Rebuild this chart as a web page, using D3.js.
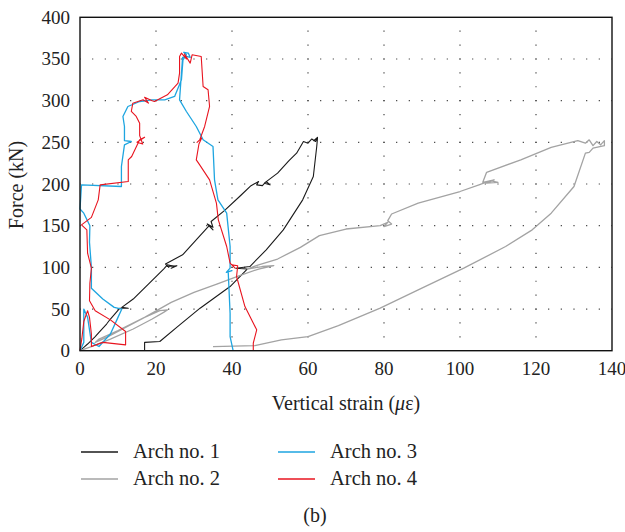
<!DOCTYPE html>
<meta charset="utf-8">
<style>
body { margin: 0; background: #fff; }
.grid line { stroke: #444; stroke-width: 1.2px; }
.curve { fill: none; stroke-linejoin: round; }
</style>
<body>
<script src="https://d3js.org/d3.v7.min.js"></script>
<script>
var width = 625,
    height = 532;

var xTicks = [0, 20, 40, 60, 80, 100, 120, 140],
    yTicks = [0, 50, 100, 150, 200, 250, 300, 350, 400];

var seriesNames = ["Arch no. 1", "Arch no. 2", "Arch no. 3", "Arch no. 4"];

// [vertical strain, force]
var arch1 = [[0,0],[1,4],[2,8],[4,17],[5,22],[7,32],[8,38],[10.5,51],[12.7,51],[11,52],[14,62],[18,80],
  [22,98],[23,103],[25,101],[24,99],[25.5,102],[23,101],[22.5,104],[27,115],[31,135],[34,150],[35,145],
  [33.5,152],[35,148],[34.5,155],[38,168],[42,185],[45,198],[47,203],[46.5,199],[48,198],[49,203],
  [50,199],[48.5,201],[52,213],[55,228],[57,237],[58.8,251],[60,249],[61,254],[62,251],[62.5,256],
  [61.5,252],[62.5,255],[62.3,245],[61.4,209],[58.6,181],[53.5,145],[49,121],[44.7,101],[41,99],
  [44,98],[39.5,77],[31.6,51],[26,30],[21,11],[17,10],[17,0]];

var arch2 = [[0,0],[3,5],[8,14],[14,26],[19,38],[22,46],[23,49],[21,48],[17,40],[12,28],[7,16],[4,10],
  [5,14],[10,24],[17,40],[24,58],[30,70],[36,80],[42,90],[47,98],[51,102],[48,101],[44,98],[47,103],
  [52,110],[58,124],[63,138],[70,146],[79,150],[81,154],[80,149],[82,152],[81,156],[82,164],[89,177],
  [100,191],[105,199],[108,204],[110,202],[107,201],[109,205],[106,202],[107,214],[116,229],[124,244],
  [131,252],[133,249],[134,253],[135,246],[136,251],[137,247],[138,252],[138,246],[135,243],[134,238],
  [133,237],[130,197],[124,165],[119,145],[112,125],[101,99],[89,73],[79,51],[68,30],[60,17],[53,13],
  [46,6],[35,5]];

var arch3 = [[0,0],[1,10],[1,30],[1,50],[2,40],[3,10],[5,5],[8,20],[10,40],[11,50],[9,52],[6,62],[3,75],
  [3,100],[2.5,130],[2.6,150],[1,165],[0,170],[0.4,199],[10.9,197],[10.9,221],[11.7,247],[13.5,251],
  [11.7,252],[11.7,269],[11.3,281],[12.6,293],[15.7,299],[19,301],[22.3,301],[24.9,305],[26.7,325],
  [27.1,349],[28,355],[27.3,358],[28.5,357],[29,352],[28,353],[27,352],[26.2,301],[28,287],[30.6,269],
  [32.4,253],[35,245],[35.4,205],[36.3,181],[38.6,165],[39.5,125],[39.5,99],[38.5,94],[40,96],[39,95],
  [39.5,45],[39.5,17],[40.3,0]];

var arch4 = [[0,0],[0.5,15],[1,35],[2,48],[2.5,40],[3,20],[3,5],[6,10],[12,7],[12,23],[8,37],[4,48],
  [2.5,60],[2.6,81],[3,99],[2,117],[1.8,145],[0.4,151],[3,160],[4.8,181],[5.3,199],[12.7,203],
  [12.7,229],[13.6,233],[15.7,253],[17,256],[15,250],[16.5,248],[15.7,258],[15.7,273],[14.8,281],
  [13.5,287],[13.9,297],[16.6,301],[18,297],[17,304],[19,300],[19.6,299],[23,307],[25.8,321],[26.2,333],
  [26.2,353],[26.7,357],[28,350],[27.5,356],[29,345],[29.5,355],[31.9,353],[32.4,317],[33.7,313],
  [34.1,293],[32.8,269],[31.5,253],[30.8,250],[32,255],[31.3,248],[30.6,229],[31.5,223],[34.1,205],
  [35.9,177],[36.4,157],[38.6,125],[39.5,105],[40.8,99],[40,103],[41.5,102],[41.2,89],[43.4,53],
  [46.5,25],[45.6,9],[45.6,0]];

var series = [arch1, arch2, arch3, arch4],
    colors = ["#1a1a1a", "#a3a3a3", "#1ea5e0", "#e8141f"],
    widths = [1.1, 1.3, 1.3, 1.1];

var FONT = "Liberation Serif";

var margin = {left: 80, top: 17.3, right: 13, bottom: 181.3};

var x = d3.scaleLinear().domain([0, 140]).range([margin.left, width - margin.right]),
    y = d3.scaleLinear().domain([0, 400]).range([height - margin.bottom, margin.top]);

var svg = d3.select("body").append("svg")
    .attr("width", width)
    .attr("height", height);

// dotted grid
var grid = svg.append("g").attr("class", "grid");
var hStep = (x(20) - x(0)) / 6,
    vStep = (y(0) - y(50)) / 3;

grid.selectAll(".h")
    .data(yTicks.slice(1, -1))
  .enter().append("line")
    .attr("x1", x(0)).attr("x2", x(140))
    .attr("y1", function(d) { return y(d); })
    .attr("y2", function(d) { return y(d); })
    .style("stroke-dasharray", "1.2," + (hStep - 1.2))
    .style("stroke-dashoffset", -hStep + 0.6);

grid.selectAll(".v")
    .data(xTicks.slice(1, -1))
  .enter().append("line")
    .attr("y1", y(0)).attr("y2", y(400))
    .attr("x1", function(d) { return x(d); })
    .attr("x2", function(d) { return x(d); })
    .style("stroke-dasharray", "1.2," + (vStep - 1.2))
    .style("stroke-dashoffset", -vStep + 0.6);

// curves
var line = d3.line()
    .x(function(d) { return x(d[0]); })
    .y(function(d) { return y(d[1]); });

svg.selectAll(".curve")
    .data(series)
  .enter().append("path")
    .attr("class", "curve")
    .attr("d", line)
    .style("stroke", function(d, i) { return colors[i]; })
    .style("stroke-width", function(d, i) { return widths[i]; });

// frame
svg.append("rect")
    .attr("x", x(0)).attr("y", y(400))
    .attr("width", x(140) - x(0))
    .attr("height", y(0) - y(400))
    .style("fill", "none")
    .style("stroke", "#111")
    .style("stroke-width", 1.4);

// tick labels
svg.selectAll(".ytl")
    .data(yTicks)
  .enter().append("text")
    .attr("font-family", FONT)
    .attr("font-size", 19)
    .attr("fill", "#222")
    .attr("x", 70)
    .attr("y", function(d) { return y(d) + 6.5; })
    .attr("text-anchor", "end")
    .text(function(d) { return d; });

svg.selectAll(".xtl")
    .data(xTicks)
  .enter().append("text")
    .attr("font-family", FONT)
    .attr("font-size", 19)
    .attr("fill", "#222")
    .attr("x", function(d) { return x(d); })
    .attr("y", 375)
    .attr("text-anchor", "middle")
    .text(function(d) { return d; });

// axis titles
var xt = svg.append("text")
    .attr("font-family", FONT)
    .attr("font-size", 20)
    .attr("fill", "#222")
    .attr("x", (x(0) + x(140)) / 2)
    .attr("y", 410)
    .attr("text-anchor", "middle");
xt.append("tspan").text("Vertical strain (");
xt.append("tspan").attr("font-style", "italic").text("μ");
xt.append("tspan").text("ε)");

svg.append("text")
    .attr("font-family", FONT)
    .attr("font-size", 20)
    .attr("fill", "#222")
    .attr("transform", "translate(23," + 185 + ") rotate(-90)")
    .attr("text-anchor", "middle")
    .text("Force (kN)");

// legend
var legPos = [[81, 452], [81, 479], [278, 452], [278, 479]];
var item = svg.append("g").selectAll("g")
    .data(seriesNames)
  .enter().append("g")
    .attr("transform", function(d, i) { return "translate(" + legPos[i][0] + "," + legPos[i][1] + ")"; });

item.append("line")
    .attr("x1", 0).attr("x2", 37)
    .style("stroke", function(d, i) { return colors[i]; })
    .style("stroke-width", 1.5);

item.append("text")
    .attr("font-family", FONT)
    .attr("font-size", 20.5)
    .attr("fill", "#222")
    .attr("x", 52)
    .attr("y", 6)
    .text(function(d) { return d; });

svg.append("text")
    .attr("font-family", FONT)
    .attr("font-size", 20)
    .attr("fill", "#222")
    .attr("x", 315)
    .attr("y", 522)
    .attr("text-anchor", "middle")
    .text("(b)");
</script>
